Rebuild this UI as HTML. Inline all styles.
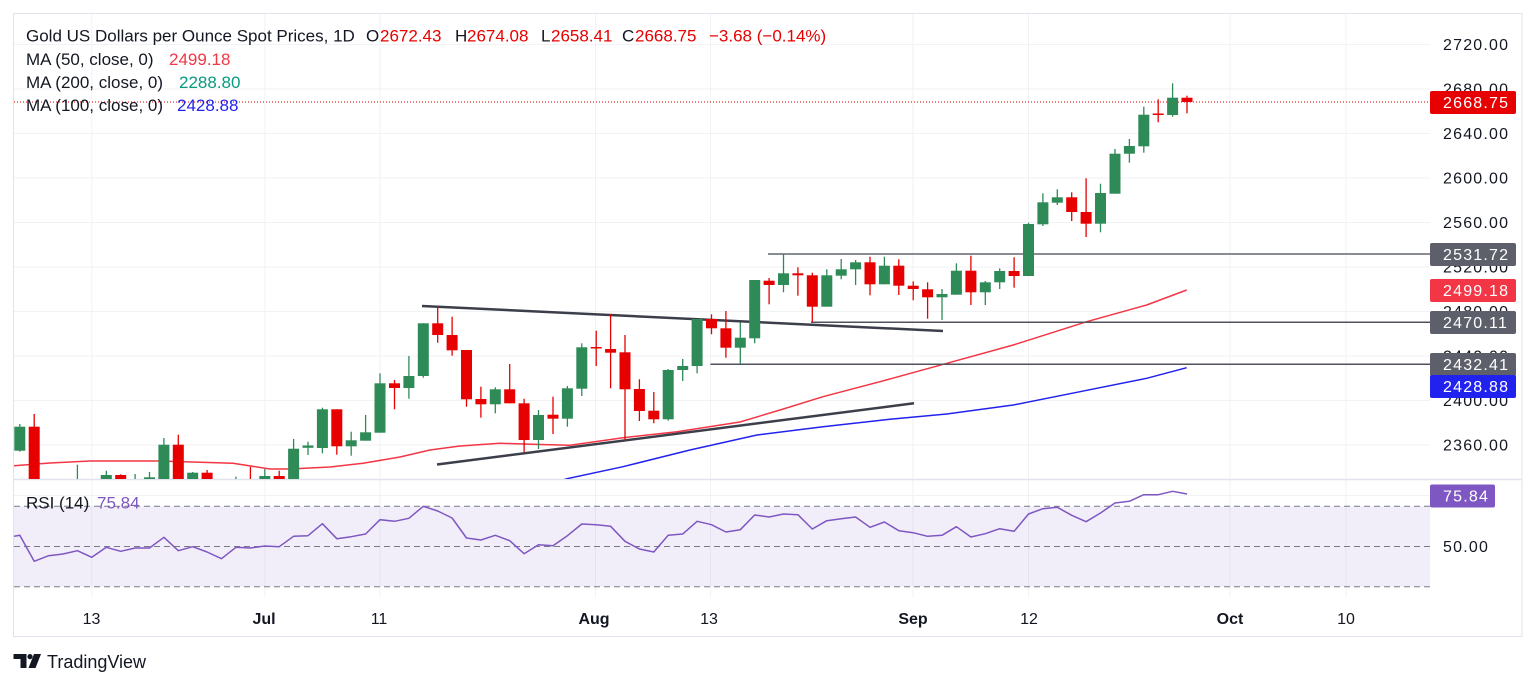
<!DOCTYPE html>
<html><head><meta charset="utf-8"><style>
html,body{margin:0;padding:0;background:#fff;}
svg{display:block;font-family:"Liberation Sans",Arial,sans-serif;}
</style></head><body>
<svg width="1536" height="685" viewBox="0 0 1536 685" xmlns="http://www.w3.org/2000/svg">
<defs>
<clipPath id="pp"><rect x="14" y="14" width="1416" height="465"/></clipPath>
<clipPath id="rp"><rect x="14" y="480" width="1416" height="117"/></clipPath>
</defs>
<rect width="1536" height="685" fill="#fff"/>
<!-- grid -->
<g stroke="#f0f2f6" stroke-width="1">
<line x1="91.8" y1="14" x2="91.8" y2="597"/><line x1="264.8" y1="14" x2="264.8" y2="597"/><line x1="380" y1="14" x2="380" y2="597"/>
<line x1="595.5" y1="14" x2="595.5" y2="597"/><line x1="710.5" y1="14" x2="710.5" y2="597"/><line x1="913" y1="14" x2="913" y2="597"/>
<line x1="1028.5" y1="14" x2="1028.5" y2="597"/><line x1="1230" y1="14" x2="1230" y2="597"/><line x1="1346" y1="14" x2="1346" y2="597"/>
<line x1="14" y1="44.5" x2="1430" y2="44.5"/><line x1="14" y1="89" x2="1430" y2="89"/><line x1="14" y1="133.5" x2="1430" y2="133.5"/>
<line x1="14" y1="178" x2="1430" y2="178"/><line x1="14" y1="222.5" x2="1430" y2="222.5"/><line x1="14" y1="267" x2="1430" y2="267"/>
<line x1="14" y1="311.5" x2="1430" y2="311.5"/><line x1="14" y1="356" x2="1430" y2="356"/><line x1="14" y1="400.5" x2="1430" y2="400.5"/>
<line x1="14" y1="445" x2="1430" y2="445"/><line x1="14" y1="495.5" x2="1430" y2="495.5"/>
</g>
<!-- frame -->
<rect x="13.5" y="13.5" width="1508.5" height="623" fill="none" stroke="#e0e3eb" stroke-width="1"/>
<line x1="14" y1="479.5" x2="1522" y2="479.5" stroke="#e0e3eb" stroke-width="1.5"/>

<g clip-path="url(#pp)">
<!-- MA lines -->
<polyline fill="none" stroke="#f23645" stroke-width="1.5" points="14,465.7 50,463 90,461 160,461 233,463.3 270,469 290,469 330,467 363,463.3 400,457 430,450 460,446 500,443.3 540,444.5 570,445.3 623,437.7 677,431.7 740,422 780,410 823,396.7 880,381.7 943.3,364.3 1013.3,345 1086.7,321.7 1146.7,305 1186.7,290"/>
<polyline fill="none" stroke="#2222ee" stroke-width="1.5" points="560,481 567,478.7 623,466.7 690,450 757,435 823,426.7 890,419.3 946.7,414 1013.3,405 1080,391.7 1146.7,378.3 1186.7,367.7"/>
<!-- trend lines -->
<line x1="422" y1="306" x2="943" y2="331" stroke="#3c3f4a" stroke-width="2.5"/>
<line x1="437" y1="464.5" x2="914" y2="403.3" stroke="#3c3f4a" stroke-width="2.5"/>
<!-- horizontal levels -->
<line x1="768" y1="254" x2="1430" y2="254" stroke="#8a8c94" stroke-width="2"/>
<line x1="811" y1="322.3" x2="1430" y2="322.3" stroke="#50535e" stroke-width="1.5"/>
<line x1="710.5" y1="364.3" x2="1430" y2="364.3" stroke="#50535e" stroke-width="1.5"/>
<!-- current price -->
<line x1="14" y1="102" x2="1430" y2="102" stroke="#e60000" stroke-width="1" stroke-dasharray="1 2"/>

<!-- green wicks -->
<g stroke="#2e8b57" stroke-width="1.3">
<line x1="19.8" y1="424" x2="19.8" y2="451.7"/><line x1="77.4" y1="464.7" x2="77.4" y2="500"/><line x1="106.3" y1="470.7" x2="106.3" y2="500"/>
<line x1="135.1" y1="474" x2="135.1" y2="500"/><line x1="149.5" y1="472" x2="149.5" y2="500"/><line x1="163.9" y1="438" x2="163.9" y2="500"/>
<line x1="192.7" y1="472" x2="192.7" y2="500"/><line x1="235.9" y1="476.7" x2="235.9" y2="500"/><line x1="264.8" y1="469" x2="264.8" y2="500"/>
<line x1="293.6" y1="439" x2="293.6" y2="500"/><line x1="308" y1="441.7" x2="308" y2="455"/><line x1="322.4" y1="407.7" x2="322.4" y2="453.3"/>
<line x1="351.2" y1="431.7" x2="351.2" y2="455.7"/><line x1="365.6" y1="415" x2="365.6" y2="440.7"/><line x1="380" y1="373.3" x2="380" y2="432.7"/>
<line x1="408.9" y1="356" x2="408.9" y2="398.7"/><line x1="423.3" y1="323.3" x2="423.3" y2="377.7"/><line x1="495.3" y1="387.3" x2="495.3" y2="413.3"/>
<line x1="538.5" y1="410" x2="538.5" y2="449"/><line x1="567.4" y1="386" x2="567.4" y2="426.7"/><line x1="581.8" y1="343.3" x2="581.8" y2="396"/>
<line x1="668.2" y1="369" x2="668.2" y2="420.7"/><line x1="682.7" y1="359" x2="682.7" y2="381"/><line x1="697.1" y1="319" x2="697.1" y2="373.3"/>
<line x1="740.3" y1="322.3" x2="740.3" y2="364"/><line x1="754.7" y1="280" x2="754.7" y2="343.3"/><line x1="783.5" y1="254" x2="783.5" y2="292.3"/>
<line x1="826.8" y1="269.3" x2="826.8" y2="306.7"/><line x1="841.2" y1="259" x2="841.2" y2="279.3"/><line x1="855.6" y1="260" x2="855.6" y2="285"/>
<line x1="884.4" y1="256.7" x2="884.4" y2="284.3"/><line x1="942" y1="289" x2="942" y2="320"/><line x1="956.4" y1="263.3" x2="956.4" y2="294.7"/>
<line x1="985.3" y1="281" x2="985.3" y2="305"/><line x1="999.7" y1="268.3" x2="999.7" y2="289"/><line x1="1028.5" y1="222.7" x2="1028.5" y2="276"/>
<line x1="1042.9" y1="193.3" x2="1042.9" y2="226"/><line x1="1057.3" y1="189.3" x2="1057.3" y2="205"/><line x1="1100.5" y1="183.7" x2="1100.5" y2="232.3"/>
<line x1="1115" y1="149" x2="1115" y2="193.7"/><line x1="1129.4" y1="139" x2="1129.4" y2="162.7"/><line x1="1143.8" y1="106.7" x2="1143.8" y2="152.7"/>
<line x1="1172.6" y1="83.3" x2="1172.6" y2="116.7"/>
</g>
<!-- green bodies -->
<g fill="#2e8b57">
<rect x="14.3" y="426.7" width="11" height="24"/><rect x="71.9" y="482" width="11" height="18"/><rect x="100.8" y="475" width="11" height="25"/>
<rect x="129.6" y="480" width="11" height="20"/><rect x="144" y="477.3" width="11" height="23"/><rect x="158.4" y="444.7" width="11" height="55.3"/>
<rect x="187.2" y="472.7" width="11" height="27.3"/><rect x="230.4" y="481" width="11" height="19"/><rect x="259.3" y="476" width="11" height="24"/>
<rect x="288.1" y="448.7" width="11" height="51.3"/><rect x="302.5" y="445.5" width="11" height="2.3"/><rect x="316.9" y="409.3" width="11" height="38.7"/>
<rect x="345.7" y="440.3" width="11" height="6"/><rect x="360.1" y="432.3" width="11" height="8.4"/><rect x="374.5" y="383.3" width="11" height="49.4"/>
<rect x="403.4" y="376" width="11" height="12"/><rect x="417.8" y="323.3" width="11" height="52.7"/><rect x="489.8" y="389.3" width="11" height="15"/>
<rect x="533" y="415" width="11" height="25"/><rect x="561.9" y="388.3" width="11" height="30.4"/><rect x="576.3" y="347.3" width="11" height="41.4"/>
<rect x="662.7" y="370" width="11" height="49.3"/><rect x="677.2" y="366" width="11" height="4"/><rect x="691.6" y="319" width="11" height="47"/>
<rect x="734.8" y="337.7" width="11" height="10"/><rect x="749.2" y="280" width="11" height="58.3"/><rect x="778" y="273.3" width="11" height="11.7"/>
<rect x="821.3" y="275.3" width="11" height="31.4"/><rect x="835.7" y="269.3" width="11" height="6.4"/><rect x="850.1" y="262.3" width="11" height="7"/>
<rect x="878.9" y="265.7" width="11" height="18.6"/><rect x="936.5" y="294" width="11" height="3.3"/><rect x="950.9" y="270.7" width="11" height="24"/>
<rect x="979.8" y="282.3" width="11" height="10"/><rect x="994.2" y="271" width="11" height="11.3"/><rect x="1023" y="224" width="11" height="52"/>
<rect x="1037.4" y="202.3" width="11" height="22"/><rect x="1051.8" y="197.3" width="11" height="5.4"/><rect x="1095" y="193" width="11" height="30.7"/>
<rect x="1109.5" y="153.7" width="11" height="40"/><rect x="1123.9" y="146" width="11" height="7.7"/><rect x="1138.3" y="114.7" width="11" height="31.6"/>
<rect x="1167.1" y="97.7" width="11" height="17.3"/>
</g>
<!-- red wicks -->
<g stroke="#e60000" stroke-width="1.3">
<line x1="34.2" y1="414" x2="34.2" y2="500"/><line x1="120.7" y1="474.3" x2="120.7" y2="500"/><line x1="178.3" y1="434.7" x2="178.3" y2="500"/>
<line x1="207.1" y1="470" x2="207.1" y2="500"/><line x1="250.4" y1="467" x2="250.4" y2="500"/><line x1="279.2" y1="470.7" x2="279.2" y2="500"/>
<line x1="336.8" y1="409.3" x2="336.8" y2="454.7"/><line x1="394.5" y1="380" x2="394.5" y2="409.3"/><line x1="437.7" y1="306.7" x2="437.7" y2="342.7"/>
<line x1="452.1" y1="316.7" x2="452.1" y2="355.7"/><line x1="466.5" y1="350" x2="466.5" y2="406.7"/><line x1="480.9" y1="386.7" x2="480.9" y2="417.7"/>
<line x1="509.7" y1="364" x2="509.7" y2="403.3"/><line x1="524.1" y1="398.7" x2="524.1" y2="452.3"/><line x1="553" y1="396.7" x2="553" y2="434"/>
<line x1="596.2" y1="330.7" x2="596.2" y2="366"/><line x1="610.6" y1="314" x2="610.6" y2="388.3"/><line x1="625" y1="335" x2="625" y2="440"/>
<line x1="639.4" y1="379.3" x2="639.4" y2="421"/><line x1="653.8" y1="392" x2="653.8" y2="423.3"/><line x1="711.5" y1="314.3" x2="711.5" y2="334.3"/>
<line x1="725.9" y1="311" x2="725.9" y2="357.7"/><line x1="769.1" y1="278" x2="769.1" y2="304.3"/><line x1="797.9" y1="267.3" x2="797.9" y2="295.7"/>
<line x1="812.3" y1="272.7" x2="812.3" y2="322"/><line x1="870" y1="256.7" x2="870" y2="295.3"/><line x1="898.8" y1="259.3" x2="898.8" y2="295"/>
<line x1="913.2" y1="281.3" x2="913.2" y2="300.3"/><line x1="927.6" y1="282.3" x2="927.6" y2="318.7"/><line x1="970.9" y1="255.7" x2="970.9" y2="305"/>
<line x1="1014.1" y1="257.3" x2="1014.1" y2="287.7"/><line x1="1071.7" y1="192.3" x2="1071.7" y2="221"/><line x1="1086.1" y1="178.3" x2="1086.1" y2="237"/>
<line x1="1158.2" y1="99.3" x2="1158.2" y2="122.3"/><line x1="1187" y1="95.7" x2="1187" y2="113.3"/>
</g>
<!-- red bodies -->
<g fill="#e60000">
<rect x="28.7" y="426.7" width="11" height="73.3"/><rect x="115.2" y="475" width="11" height="25"/><rect x="172.8" y="444.7" width="11" height="55.3"/>
<rect x="201.6" y="472.7" width="11" height="27.3"/><rect x="244.9" y="481" width="11" height="19"/><rect x="273.7" y="476" width="11" height="24"/>
<rect x="331.3" y="409.3" width="11" height="37"/><rect x="389" y="383.3" width="11" height="4.7"/><rect x="432.2" y="323.3" width="11" height="11.7"/>
<rect x="446.6" y="335" width="11" height="15.3"/><rect x="461" y="350" width="11" height="49.3"/><rect x="475.4" y="399" width="11" height="5.3"/>
<rect x="504.2" y="389.3" width="11" height="14"/><rect x="518.6" y="403.3" width="11" height="36.7"/><rect x="547.5" y="414.7" width="11" height="4"/>
<rect x="590.7" y="347" width="11" height="1.5"/><rect x="605.1" y="349" width="11" height="3.7"/><rect x="619.5" y="352.3" width="11" height="37"/>
<rect x="633.9" y="389" width="11" height="22"/><rect x="648.3" y="410.7" width="11" height="8.6"/><rect x="706" y="319" width="11" height="9.3"/>
<rect x="720.4" y="328.3" width="11" height="19.4"/><rect x="763.6" y="280.7" width="11" height="4.3"/><rect x="792.4" y="273.3" width="11" height="2"/>
<rect x="806.8" y="275.3" width="11" height="31.4"/><rect x="864.5" y="262.3" width="11" height="22"/><rect x="893.3" y="265.7" width="11" height="20"/>
<rect x="907.7" y="285.7" width="11" height="3.3"/><rect x="922.1" y="289.3" width="11" height="8"/><rect x="965.4" y="270.7" width="11" height="21.6"/>
<rect x="1008.6" y="271" width="11" height="5"/><rect x="1066.2" y="197.3" width="11" height="14.7"/><rect x="1080.6" y="212" width="11" height="11.7"/>
<rect x="1152.7" y="113.5" width="11" height="1.5"/><rect x="1181.5" y="97.7" width="11" height="4.3"/>
</g>
</g>

<!-- RSI pane -->
<g clip-path="url(#rp)">
<rect x="14" y="506.3" width="1416" height="80.4" fill="#7e57c2" fill-opacity="0.1"/>
<g stroke="#787b86" stroke-width="1" stroke-dasharray="6 4">
<line x1="14" y1="506.3" x2="1430" y2="506.3"/><line x1="14" y1="546.5" x2="1430" y2="546.5"/><line x1="14" y1="586.7" x2="1430" y2="586.7"/>
</g>
<polyline fill="none" stroke="#7e57c2" stroke-width="1.5" stroke-linejoin="round" points="14,536.3 19.8,535.3 34.2,561.3 48.6,555.7 63,554 77.4,550.7 91.8,557.3 106.3,547.3 120.7,551.3 135.1,548 149.5,548 163.9,537.3 178.3,550.7 192.7,546.7 207.1,552 221.5,558.7 235.9,547.3 250.4,548 264.8,546 279.2,546.7 293.6,536.3 308,535.7 322.4,523.7 336.8,538.7 351.2,536.7 365.6,534 380,519.7 394.5,521.3 408.9,518.3 423.3,506.3 437.7,511 452.1,518 466.5,538 480.9,540 495.3,535.3 509.7,540.7 524.1,553.7 538.5,544.7 553,545.7 567.4,535.7 581.8,524 596.2,524.7 610.6,526.3 625,541.3 639.4,549 653.8,552 668.2,535.3 682.7,534 697.1,521.3 711.5,524.7 725.9,532 740.3,529.7 754.7,515 769.1,517 783.5,514 797.9,514.7 812.3,529 826.8,520.7 841.2,518.7 855.6,517 870,527.3 884.4,522 898.8,530.7 913.2,532.7 927.6,536.3 942,535.3 956.4,526.7 970.9,537 985.3,533.7 999.7,528.7 1014.1,531.3 1028.5,514 1042.9,508.7 1057.3,507.3 1071.7,515.3 1086.1,521.7 1100.5,513 1115,503 1129.4,501.3 1143.8,494.7 1158.2,494.7 1172.6,491.3 1187,494"/>
</g>

<!-- legend -->
<g font-size="17" fill="#131722">
<text x="26" y="41.5">Gold US Dollars per Ounce Spot Prices, 1D</text>
<text x="366" y="41.5">O</text><text x="380" y="41.5" fill="#e60000">2672.43</text>
<text x="455" y="41.5">H</text><text x="467" y="41.5" fill="#e60000">2674.08</text>
<text x="541" y="41.5">L</text><text x="551" y="41.5" fill="#e60000">2658.41</text>
<text x="622" y="41.5">C</text><text x="635" y="41.5" fill="#e60000">2668.75</text>
<text x="709" y="41.5" fill="#e60000">−3.68 (−0.14%)</text>
<text x="26" y="65">MA (50, close, 0)</text><text x="169" y="65" fill="#f23645">2499.18</text>
<text x="26" y="88">MA (200, close, 0)</text><text x="179" y="88" fill="#089981">2288.80</text>
<text x="26" y="111">MA (100, close, 0)</text><text x="177" y="111" fill="#2222ee">2428.88</text>
<text x="26" y="508.5">RSI (14)</text><text x="97" y="508.5" fill="#7e57c2">75.84</text>
</g>

<!-- price axis labels -->
<g font-size="16" fill="#131722" letter-spacing="1.2">
<text x="1443" y="50">2720.00</text><text x="1443" y="94.5">2680.00</text><text x="1443" y="139">2640.00</text>
<text x="1443" y="183.5">2600.00</text><text x="1443" y="228">2560.00</text><text x="1443" y="272.5">2520.00</text>
<text x="1443" y="317">2480.00</text><text x="1443" y="361.5">2440.00</text><text x="1443" y="406">2400.00</text>
<text x="1443" y="450.5">2360.00</text><text x="1443" y="552">50.00</text>
</g>
<!-- price axis boxes -->
<g>
<rect x="1430" y="91" width="86" height="23" rx="2" fill="#e60000"/>
<rect x="1430" y="243" width="86" height="23" rx="2" fill="#5d606b"/>
<rect x="1430" y="279" width="86" height="23" rx="2" fill="#f23645"/>
<rect x="1430" y="311" width="86" height="23" rx="2" fill="#5d606b"/>
<rect x="1430" y="353" width="86" height="23" rx="2" fill="#5d606b"/>
<rect x="1430" y="375" width="86" height="23" rx="2" fill="#2222ee"/>
<rect x="1430" y="484.5" width="65" height="23" rx="2" fill="#7e57c2"/>
</g>
<g font-size="16" fill="#ffffff" letter-spacing="1.2">
<text x="1443" y="108">2668.75</text>
<text x="1443" y="260">2531.72</text>
<text x="1443" y="296">2499.18</text>
<text x="1443" y="328">2470.11</text>
<text x="1443" y="370">2432.41</text>
<text x="1443" y="392">2428.88</text>
<text x="1443" y="501.5">75.84</text>
</g>

<!-- time axis -->
<g font-size="16" fill="#131722" text-anchor="middle">
<text x="91.5" y="624">13</text>
<text x="264" y="624" font-weight="bold">Jul</text>
<text x="379" y="624">11</text>
<text x="594" y="624" font-weight="bold">Aug</text>
<text x="709" y="624">13</text>
<text x="913" y="624" font-weight="bold">Sep</text>
<text x="1029" y="624">12</text>
<text x="1230" y="624" font-weight="bold">Oct</text>
<text x="1346" y="624">10</text>
</g>

<!-- TradingView logo -->
<g fill="#131722">
<path d="M13.5,654 H26.5 V668 H20.5 V659 H13.5 Z"/>
<circle cx="30" cy="656.6" r="2.6"/>
<polygon points="34,654 41,654 35.5,668 28.5,668"/>
</g>
<text x="47" y="668" font-size="18" fill="#131722">TradingView</text>
</svg>
</body></html>
